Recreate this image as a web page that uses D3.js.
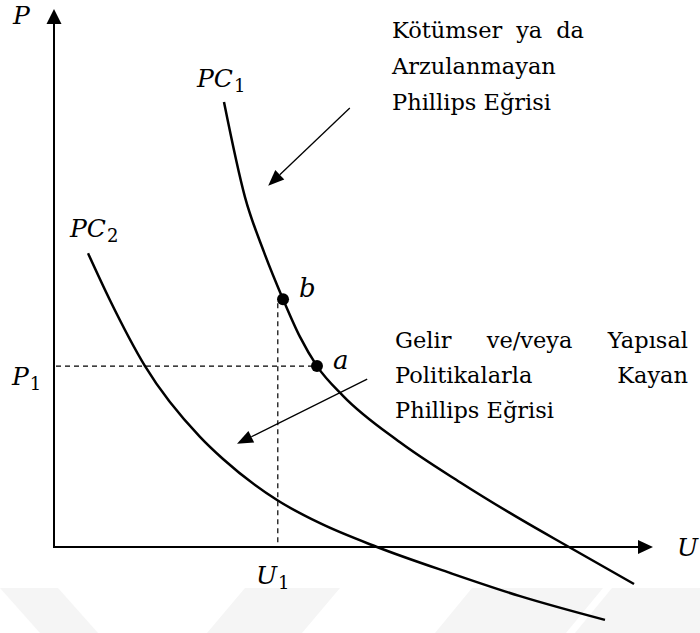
<!DOCTYPE html>
<html>
<head>
<meta charset="utf-8">
<script src="https://cdn.jsdelivr.net/npm/d3@7"></script>
<style>
  html, body { margin: 0; padding: 0; background: #fff; }
  svg { display: block; }
  .math { font-family: "DejaVu Serif", serif; font-style: italic; fill: #000; }
  .sub { font-family: "DejaVu Serif", serif; font-style: normal; }
  .note { font-family: "DejaVu Serif", serif; font-size: 22.5px; fill: #000; }
</style>
</head>
<body>
<script>
// Phillips curves: unemployment (U) against price growth (P)
const pc1U = [28.33, 31.83, 35.0, 38.17, 41.0, 43.83, 48.17, 57.67, 67.67, 77.67, 85.83, 96.67];
const pc1P = [82.4, 64.8, 54.6, 45.9, 38.9, 33.5, 28.0, 19.4, 12.0, 5.2, 0, -6.85];
const pc2U = [5.67, 9.33, 15.17, 24.33, 28.17, 37.17, 44.33, 53.83, 66.0, 77.67, 91.83];
const pc2P = [54.4, 45.7, 33.5, 20.4, 16.3, 8.7, 4.4, 0, -4.8, -9.1, -13.5];

// Reference levels and marked points
const levelU1 = 37.3;
const levelP1 = 33.5;
const pointNames = ["a", "b"];
const pointU = [43.83, 38.17];
const pointP = [33.5, 45.9];

// Annotation arrows (from, to) in axis units
const arrowFromU = [49.3, 52.2];
const arrowFromP = [81.3, 31.1];
const arrowToU = [35.7, 30.5];
const arrowToP = [66.9, 19.1];

// Annotation texts
const noteTop = ["Kötümser ya da", "Arzulanmayan", "Phillips Eğrisi"];
const noteBottom = ["Gelir ve/veya Yapısal", "Politikalarla Kayan", "Phillips Eğrisi"];

const W = 700, H = 633;
const svg = d3.select("body").append("svg").attr("width", W).attr("height", H);

const x = d3.scaleLinear().domain([0, 100]).range([54, 654]);
const y = d3.scaleLinear().domain([0, 100]).range([547, 7]);

// faint background watermark bands
const bands = [
  [[0, 588], [58, 588], [98, 633], [40, 633]],
  [[245, 588], [340, 588], [302, 633], [207, 633]],
  [[472, 588], [603, 588], [566, 633], [435, 633]],
  [[612, 588], [700, 588], [700, 633], [575, 633]]
];
svg.append("g").selectAll("polygon").data(bands).join("polygon")
  .attr("points", d => d.map(p => p.join(",")).join(" "))
  .attr("fill", "#f5f5f5");

function arrowHead(g, x1, y1, x2, y2, len, half) {
  const a = Math.atan2(y2 - y1, x2 - x1);
  const bx = x2 - len * Math.cos(a), by = y2 - len * Math.sin(a);
  const nx = -Math.sin(a), ny = Math.cos(a);
  g.append("polygon")
    .attr("points", [[x2, y2], [bx + nx * half, by + ny * half], [bx - nx * half, by - ny * half]]
      .map(p => p.join(",")).join(" "))
    .attr("fill", "#000");
  return [bx, by];
}

// axes
const axes = svg.append("g");
const x0 = x(0), y0 = y(0);
axes.append("line").attr("x1", x0).attr("y1", y0 + 1).attr("x2", x0).attr("y2", 22)
  .attr("stroke", "#000").attr("stroke-width", 2);
arrowHead(axes, x0, y0, x0, 9, 15, 7.5);
axes.append("line").attr("x1", x0 - 1).attr("y1", y0).attr("x2", 640).attr("y2", y0)
  .attr("stroke", "#000").attr("stroke-width", 2);
arrowHead(axes, x0, y0, 653, y0, 15, 7);

// dashed guides
const guides = svg.append("g").attr("stroke", "#000").attr("stroke-width", 1.2)
  .attr("stroke-dasharray", "5,4").attr("fill", "none");
guides.append("line").attr("x1", x0 + 2).attr("x2", x(pointU[0]))
  .attr("y1", y(levelP1)).attr("y2", y(levelP1));
guides.append("line").attr("x1", x(levelU1)).attr("x2", x(levelU1))
  .attr("y1", y(pointP[1]) + 4).attr("y2", y0);

// curves
const line = d3.line().x(d => x(d[0])).y(d => y(d[1])).curve(d3.curveMonotoneX);
const curves = [d3.zip(pc1U, pc1P), d3.zip(pc2U, pc2P)];
svg.append("g").selectAll("path").data(curves).join("path")
  .attr("d", line).attr("fill", "none").attr("stroke", "#000").attr("stroke-width", 2.5);

// marked points
const pts = svg.append("g");
pointNames.forEach((n, i) => {
  pts.append("circle").attr("cx", x(pointU[i])).attr("cy", y(pointP[i])).attr("r", 6).attr("fill", "#000");
  pts.append("text").attr("class", "math").attr("font-size", 26)
    .attr("x", x(pointU[i]) + 16).attr("y", y(pointP[i]) + (n === "a" ? 3 : -2)).text(n);
});

// annotation arrows
const arr = svg.append("g");
arrowFromU.forEach((u, i) => {
  const x1 = x(u), y1 = y(arrowFromP[i]), x2 = x(arrowToU[i]), y2 = y(arrowToP[i]);
  const [bx, by] = arrowHead(arr, x1, y1, x2, y2, 16, 6.5);
  arr.append("line").attr("x1", x1).attr("y1", y1).attr("x2", bx).attr("y2", by)
    .attr("stroke", "#000").attr("stroke-width", 1.3);
});

// math labels with optional subscript
function mathLabel(main, sub, px, py, size) {
  const t = svg.append("text").attr("class", "math").attr("font-size", size).attr("x", px).attr("y", py);
  t.append("tspan").text(main);
  if (sub) t.append("tspan").attr("class", "sub").attr("font-size", size * 0.72).attr("dy", 5).attr("dx", 1).text(sub);
}
mathLabel("P", null, 13, 24, 25);
mathLabel("U", null, 677, 556, 25);
mathLabel("PC", "1", 197, 87, 25);
mathLabel("PC", "2", 70, 237, 25);
mathLabel("P", "1", 12, 385, 25);
mathLabel("U", "1", 256, 584, 25);

// justified note blocks
function noteBlock(lines, left, right, top, lh) {
  const g = svg.append("g");
  lines.forEach((ln, i) => {
    const by = top + i * lh;
    const words = ln.split(" ");
    if (i === lines.length - 1 || words.length < 2) {
      g.append("text").attr("class", "note").attr("x", left).attr("y", by).text(ln);
      return;
    }
    const nodes = words.map(w => g.append("text").attr("class", "note").attr("y", by).text(w));
    const widths = nodes.map(n => n.node().getComputedTextLength());
    const gap = (right - left - d3.sum(widths)) / (words.length - 1);
    let cx = left;
    nodes.forEach((n, k) => { n.attr("x", cx); cx += widths[k] + gap; });
  });
}
noteBlock(noteTop, 392, 584, 38, 36);
noteBlock(noteBottom, 395, 688, 348, 35);
</script>
</body>
</html>
